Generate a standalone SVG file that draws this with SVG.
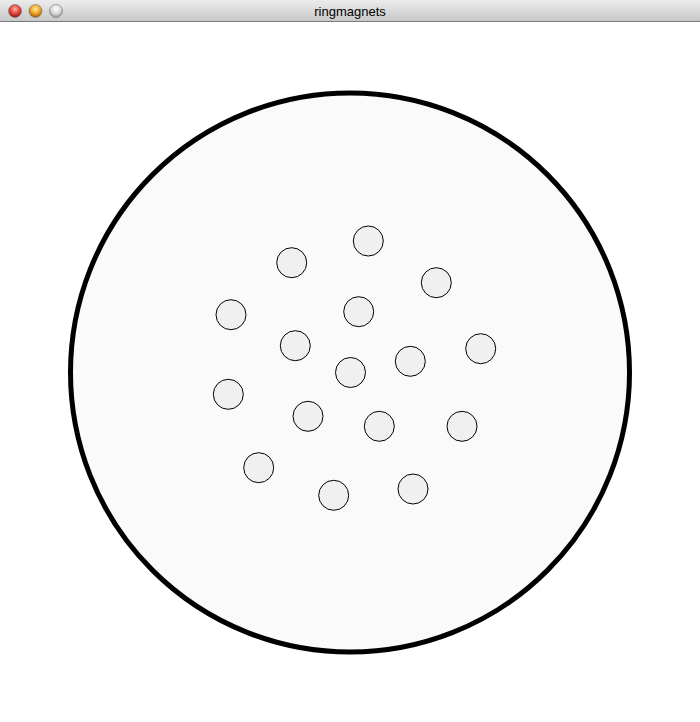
<svg xmlns="http://www.w3.org/2000/svg" width="700" height="722" viewBox="0 0 700 722">
<defs>
<linearGradient id="bar" x1="0" y1="0" x2="0" y2="1">
<stop offset="0" stop-color="#ececec"/>
<stop offset="1" stop-color="#c8c8c8"/>
</linearGradient>
<radialGradient id="red" cx="0.5" cy="0.35" r="0.6">
<stop offset="0" stop-color="#ffb0a8"/>
<stop offset="0.6" stop-color="#e0443a"/>
<stop offset="1" stop-color="#9a1a14"/>
</radialGradient>
<radialGradient id="yel" cx="0.5" cy="0.35" r="0.6">
<stop offset="0" stop-color="#fff0a0"/>
<stop offset="0.6" stop-color="#f0a020"/>
<stop offset="1" stop-color="#a86010"/>
</radialGradient>
<radialGradient id="gry" cx="0.5" cy="0.35" r="0.6">
<stop offset="0" stop-color="#ffffff"/>
<stop offset="0.6" stop-color="#d8d8d8"/>
<stop offset="1" stop-color="#a0a0a0"/>
</radialGradient>
</defs>
<style>
.mag{fill:#f0f0f0;stroke:#000;stroke-width:1}
.ring{fill:#fafafa;stroke:#000;stroke-width:5}
.btn{stroke:#777;stroke-width:0.6}
.title{font-family:"Liberation Sans","DejaVu Sans",sans-serif;font-size:13px;fill:#000}
</style>
<rect x="0" y="0" width="700" height="722" fill="#ffffff"/>
<g id="titlebar">
<rect x="0" y="0" width="700" height="21" fill="url(#bar)"/>
<line x1="0" y1="21.5" x2="700" y2="21.5" stroke="#7a7a7a" stroke-width="1"/>
<circle class="btn" cx="15" cy="11" r="6.5" fill="url(#red)"/>
<circle class="btn" cx="35.5" cy="11" r="6.5" fill="url(#yel)"/>
<circle class="btn" cx="56" cy="11" r="6.5" fill="url(#gry)"/>
<text class="title" x="350" y="16" text-anchor="middle">ringmagnets</text>
</g>
<g id="ring"><circle class="ring" cx="350" cy="372.5" r="279.5"/></g>
<g id="magnets">
<circle id="m1" class="mag" cx="368.3" cy="241" r="15"/>
<circle id="m2" class="mag" cx="291.7" cy="262.7" r="15"/>
<circle id="m3" class="mag" cx="436.3" cy="282.7" r="15"/>
<circle id="m4" class="mag" cx="231" cy="314.7" r="15"/>
<circle id="m5" class="mag" cx="358.7" cy="311.7" r="15"/>
<circle id="m6" class="mag" cx="295.3" cy="345.7" r="15"/>
<circle id="m7" class="mag" cx="480.7" cy="348.7" r="15"/>
<circle id="m8" class="mag" cx="410.3" cy="361.3" r="15"/>
<circle id="m9" class="mag" cx="350.5" cy="372.5" r="15"/>
<circle id="m10" class="mag" cx="228.3" cy="394.3" r="15"/>
<circle id="m11" class="mag" cx="308" cy="416.3" r="15"/>
<circle id="m12" class="mag" cx="379.3" cy="426.3" r="15"/>
<circle id="m13" class="mag" cx="462" cy="426.3" r="15"/>
<circle id="m14" class="mag" cx="258.7" cy="467.7" r="15"/>
<circle id="m15" class="mag" cx="333.7" cy="495.3" r="15"/>
<circle id="m16" class="mag" cx="413" cy="489" r="15"/>
</g>
<g id="connectors"/>
</svg>
